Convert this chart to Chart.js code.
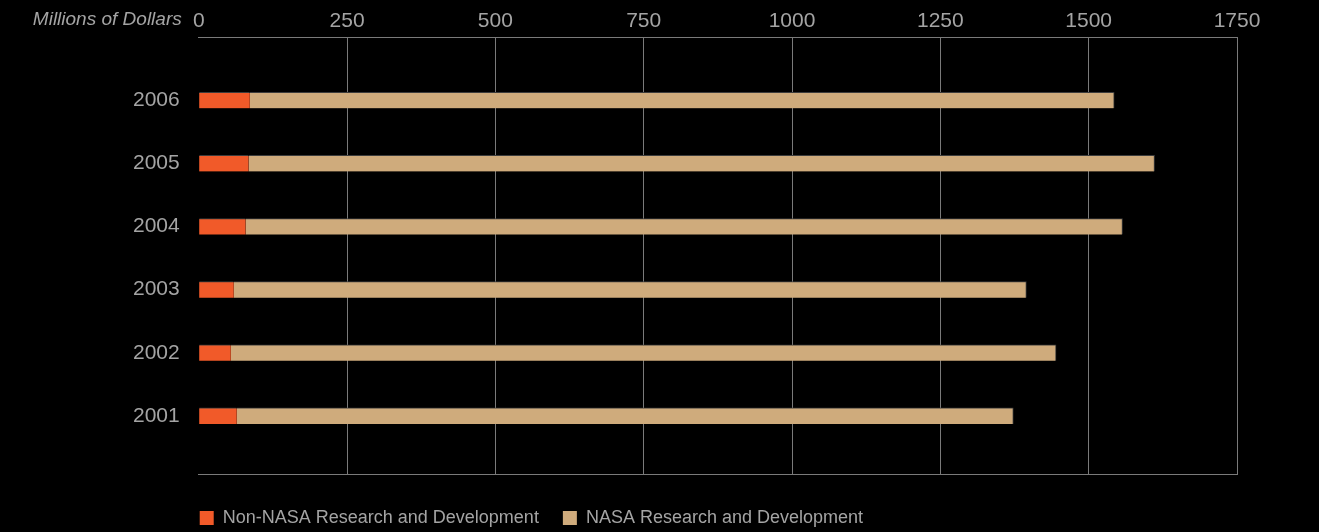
<!DOCTYPE html>
<html>
<head>
<meta charset="utf-8">
<script src="https://cdn.jsdelivr.net/npm/chart.js@4/dist/chart.umd.min.js"></script>
<style>
  html, body { margin: 0; padding: 0; background: #000; }
  canvas { display: block; }
</style>
</head>
<body>
<canvas id="c" width="1319" height="532"></canvas>
<script>
const categories = ['2006', '2005', '2004', '2003', '2002', '2001'];
const nonNasaRD = [86, 84, 79, 59, 54, 64];
const nasaRD = [1457, 1527, 1478, 1336, 1391, 1309];
const xTicks = [0, 250, 500, 750, 1000, 1250, 1500, 1750];
const seriesNames = ['Non-NASA Research and Development', 'NASA Research and Development'];
const axisTitle = 'Millions of Dollars';

const FONT = '"Liberation Sans", Arial, Helvetica, sans-serif';
const TEXT = '#a4a4a4';
const GRID = '#7a7a7a';
const EDGE = '#3c3c3c';

const toPoints = arr => arr.map((v, i) => ({ x: v, y: i }));

const titlePlugin = {
  id: 'unitTitle',
  afterDraw(chart) {
    const ctx = chart.ctx;
    ctx.save();
    ctx.font = 'italic 19px ' + FONT;
    ctx.fillStyle = TEXT;
    ctx.textAlign = 'right';
    ctx.textBaseline = 'middle';
    ctx.fillText(axisTitle, chart.chartArea.left - 17, 20);
    ctx.restore();
  }
};

const legendShift = {
  id: 'legendShift',
  afterLayout(chart) {
    const lg = chart.legend;
    if (!lg) return;
    const pad = chart.options.plugins.legend.labels.padding;
    const dx = (chart.chartArea.left + 1 - pad) - lg.left;
    const dy = (chart.chartArea.bottom + 11) - lg.top;
    lg.left += dx; lg.right += dx;
    lg.top += dy; lg.bottom += dy;
  }
};

new Chart(document.getElementById('c'), {
  type: 'bar',
  data: {
    datasets: [
      {
        label: seriesNames[0],
        data: toPoints(nonNasaRD),
        backgroundColor: '#F15A29',
        borderColor: EDGE,
        borderWidth: { top: 1, right: 0, bottom: 0, left: 0 },
        borderSkipped: false,
        barThickness: 16
      },
      {
        label: seriesNames[1],
        data: toPoints(nasaRD),
        backgroundColor: '#CFAB7C',
        borderColor: EDGE,
        borderWidth: { top: 1, right: 1, bottom: 0, left: 0 },
        borderSkipped: false,
        barThickness: 16
      }
    ]
  },
  options: {
    indexAxis: 'y',
    responsive: false,
    animation: false,
    devicePixelRatio: 1,
    layout: { padding: { left: 114, right: 82, top: 6, bottom: 6 } },
    scales: {
      x: {
        type: 'linear',
        position: 'top',
        stacked: true,
        offset: false,
        min: xTicks[0],
        max: xTicks[xTicks.length - 1],
        afterBuildTicks(scale) { scale.ticks = xTicks.map(v => ({ value: v })); },
        ticks: {
          color: TEXT,
          font: { family: FONT, size: 21 },
          padding: 3,
          callback: v => String(v)
        },
        grid: {
          drawTicks: false,
          offset: false,
          color: ctx => (ctx.tick && ctx.tick.value === 0) ? 'rgba(0,0,0,0)' : GRID,
          lineWidth: 1
        },
        border: { display: true, color: GRID, width: 1 }
      },
      x2: {
        type: 'linear',
        position: 'bottom',
        display: true,
        min: 0,
        max: 1750,
        ticks: { display: false },
        grid: { display: false, drawTicks: false },
        border: { display: true, color: GRID, width: 1 }
      },
      y: {
        type: 'linear',
        stacked: true,
        reverse: true,
        offset: false,
        min: -1,
        max: 5.92,
        ticks: {
          stepSize: 1,
          autoSkip: false,
          color: TEXT,
          font: { family: FONT, size: 21 },
          padding: 19,
          callback: v => (Number.isInteger(v) && v >= 0 && v < categories.length) ? categories[v] : ''
        },
        grid: { display: false, drawTicks: false, offset: false },
        border: { display: false }
      }
    },
    plugins: {
      legend: {
        display: true,
        position: 'bottom',
        align: 'start',
        fullSize: false,
        labels: {
          boxWidth: 14,
          boxHeight: 14,
          padding: 24,
          color: TEXT,
          font: { family: FONT, size: 18 },
          generateLabels: chart => Chart.defaults.plugins.legend.labels.generateLabels(chart)
            .map(l => Object.assign(l, { lineWidth: 0 }))
        }
      },
      tooltip: { enabled: false }
    }
  },
  plugins: [titlePlugin, legendShift]
});
</script>
</body>
</html>
